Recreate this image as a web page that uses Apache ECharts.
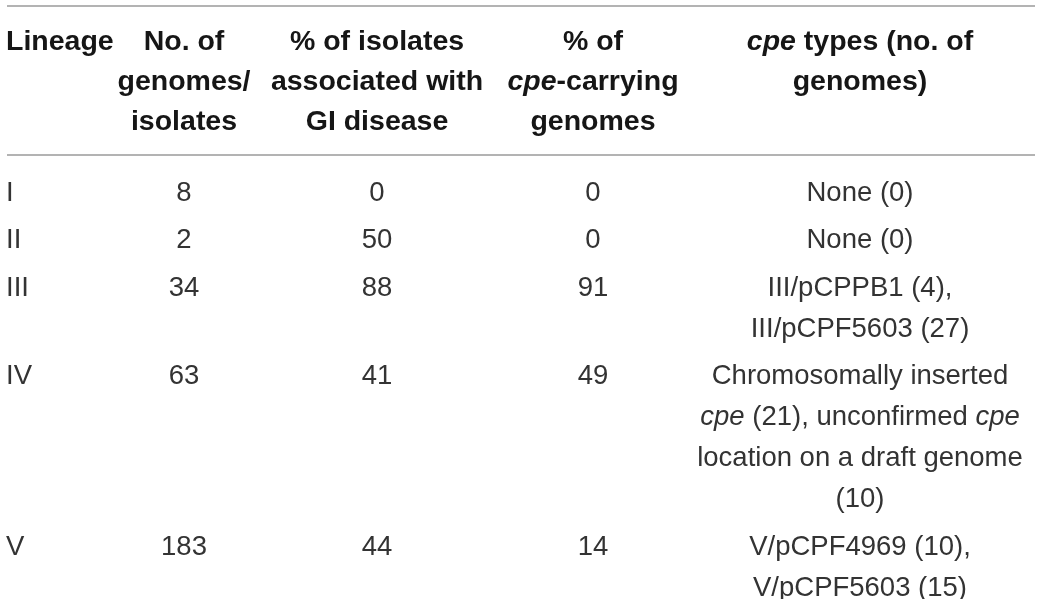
<!DOCTYPE html>
<html>
<head>
<meta charset="utf-8">
<script src="https://cdn.jsdelivr.net/npm/echarts@6/dist/echarts.min.js"></script>
<style>
  html, body { margin: 0; padding: 0; background: #fff; }
  #chart { width: 1040px; height: 599px; }
</style>
</head>
<body>
<div id="chart"></div>
<script>
// table content
const headers = [
  ['Lineage'],
  ['No. of', 'genomes/', 'isolates'],
  ['% of isolates', 'associated with', 'GI disease'],
  ['% of', 'cpe-carrying', 'genomes'],
  ['cpe types (no. of', 'genomes)']
]
const lineages = ['I', 'II', 'III', 'IV', 'V']
const genomes = [8, 2, 34, 63, 183]
const giDiseasePct = [0, 50, 88, 41, 44]
const cpeCarryingPct = [0, 0, 91, 49, 14]
const cpeTypes = [
  ['None (0)'],
  ['None (0)'],
  ['III/pCPPB1 (4),', 'III/pCPF5603 (27)'],
  ['Chromosomally inserted', 'cpe (21), unconfirmed cpe', 'location on a draft genome', '(10)'],
  ['V/pCPF4969 (10),', 'V/pCPF5603 (15)']
]

// layout
const W = 1040, H = 599
const colX = [6, 184, 377, 593, 860]
const colAlign = ['left', 'center', 'center', 'center', 'center']
const headTop = 42.5, headLine = 40
const bodyTop = 193, bodyLine = 41, rowGap = 6.5
const ruleLeft = 7, ruleRight = 1035, ruleYs = [5.5, 155]

const font = 'Liberation Sans, Arial, sans-serif'
const italicize = s => s.replace(/\bcpe\b/g, '{i|cpe}')

// one point per text line
function headerPoints() {
  const pts = []
  headers.forEach((lines, c) => {
    lines.forEach((t, k) => {
      pts.push({ value: [colX[c], headTop + k * headLine], text: t, label: { align: colAlign[c] } })
    })
  })
  return pts
}

function bodyPoints() {
  const pts = []
  let y = bodyTop
  lineages.forEach((lin, r) => {
    const cells = [[lin], [String(genomes[r])], [String(giDiseasePct[r])], [String(cpeCarryingPct[r])], cpeTypes[r]]
    let nLines = 1
    cells.forEach((lines, c) => {
      nLines = Math.max(nLines, lines.length)
      lines.forEach((t, k) => {
        pts.push({ value: [colX[c], y + k * bodyLine], text: t, label: { align: colAlign[c] } })
      })
    })
    y += nLines * bodyLine + rowGap
  })
  return pts
}

const chart = echarts.init(document.getElementById('chart'))

chart.setOption({
  animation: false,
  backgroundColor: '#fff',
  grid: { left: 0, right: 0, top: 0, bottom: 0 },
  xAxis: { type: 'value', min: 0, max: W, show: false },
  yAxis: { type: 'value', min: 0, max: H, inverse: true, show: false },
  series: [
    {
      type: 'scatter',
      symbolSize: 0,
      silent: true,
      itemStyle: { opacity: 1 },
      data: headerPoints(),
      label: {
        show: true,
        position: 'inside',
        verticalAlign: 'middle',
        fontFamily: font,
        fontSize: 28.5,
        fontWeight: 'bold',
        color: '#161616',
        formatter: p => italicize(p.data.text),
        rich: {
          i: { fontFamily: font, fontSize: 28.5, fontWeight: 'bold', fontStyle: 'italic', color: '#161616' }
        }
      },
      markLine: {
        silent: true,
        symbol: 'none',
        label: { show: false },
        lineStyle: { color: '#9a9a9a', width: 1.5, type: 'solid', opacity: 1 },
        data: ruleYs.map(y => [{ coord: [ruleLeft, y] }, { coord: [ruleRight, y] }])
      }
    },
    {
      type: 'scatter',
      symbolSize: 0,
      silent: true,
      itemStyle: { opacity: 1 },
      data: bodyPoints(),
      label: {
        show: true,
        position: 'inside',
        verticalAlign: 'middle',
        fontFamily: font,
        fontSize: 27.5,
        color: '#333',
        formatter: p => italicize(p.data.text),
        rich: {
          i: { fontFamily: font, fontSize: 27.5, fontStyle: 'italic', color: '#333' }
        }
      }
    }
  ]
})
</script>
</body>
</html>
